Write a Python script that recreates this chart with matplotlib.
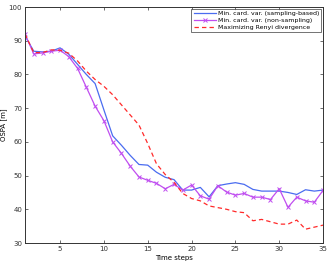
import matplotlib
matplotlib.use('Agg')
import matplotlib.pyplot as plt

steps = list(range(1, 36))

# Min. card. var. (sampling-based)
sampling = [91.5, 86.9, 86.7, 86.9, 87.9, 86.0, 83.0, 80.0, 77.3, 69.5,
            61.8, 59.0, 56.0, 53.3, 53.1, 51.0, 49.5, 48.8, 45.7, 45.7,
            46.5, 43.7, 47.0, 47.5, 47.9, 47.4, 45.9, 45.4, 45.4, 45.4,
            45.0, 44.4, 45.8, 45.4, 45.7]

# Min. card. var. (non-sampling)
non_sampling = [92.0, 86.1, 86.4, 86.9, 87.2, 85.3, 81.8, 76.2, 70.6, 66.3,
                60.0, 56.6, 52.8, 49.6, 48.6, 47.7, 46.1, 47.4, 45.7, 47.2,
                44.0, 43.0, 47.0, 45.1, 44.2, 44.7, 43.6, 43.6, 42.9, 46.1,
                40.6, 43.6, 42.5, 42.1, 45.6]

# Maximizing Renyi divergence
renyi = [92.0, 86.5, 86.5, 87.3, 87.2, 86.3, 84.0, 81.0, 78.5, 76.5,
         74.0, 71.0, 68.0, 65.0, 59.5, 53.5, 50.3, 48.0, 44.7, 43.2,
         42.5, 41.0, 40.5, 40.0, 39.3, 39.0, 36.6, 37.0, 36.3, 35.6,
         35.6, 36.8, 34.1, 34.7, 35.3]

fig = plt.figure(figsize=(3.31, 2.62), dpi=100)
ax = fig.add_axes([0.0755, 0.0725, 0.9005, 0.9005])

ax.plot(steps, sampling, color='#4a6cf0', lw=0.9,
        label='Min. card. var. (sampling-based)')
ax.plot(steps, non_sampling, color='#c04ef0', lw=0.9, marker='x', ms=3.5,
        mew=0.7, label='Min. card. var. (non-sampling)')
ax.plot(steps, renyi, color='#ff2a2a', lw=0.9, ls=(0, (3.5, 2.5)),
        label='Maximizing Renyi divergence')

ax.set_xlim(1, 35)
ax.set_ylim(30, 100)
ax.set_xticks([5, 10, 15, 20, 25, 30, 35])
ax.set_yticks([30, 40, 50, 60, 70, 80, 90, 100])
ax.tick_params(direction='in', top=True, right=True, labelsize=5,
               length=2.5, width=0.5, pad=2, colors='#333333')
for s in ax.spines.values():
    s.set_linewidth(0.7)
    s.set_color('#333333')

ax.set_xlabel('Time steps', fontsize=5)
ax.set_ylabel('OSPA [m]', fontsize=5)
ax.xaxis.set_label_coords(0.5, -0.052)
ax.yaxis.set_label_coords(-0.062, 0.5)

leg = ax.legend(loc='upper right', fontsize=4.5, frameon=True, fancybox=False,
                edgecolor='#333333', borderaxespad=0.25, handlelength=3.6,
                borderpad=0.35, labelspacing=0.25, handletextpad=0.3)
leg.get_frame().set_linewidth(0.6)

fig.savefig('out.png', dpi=100)
